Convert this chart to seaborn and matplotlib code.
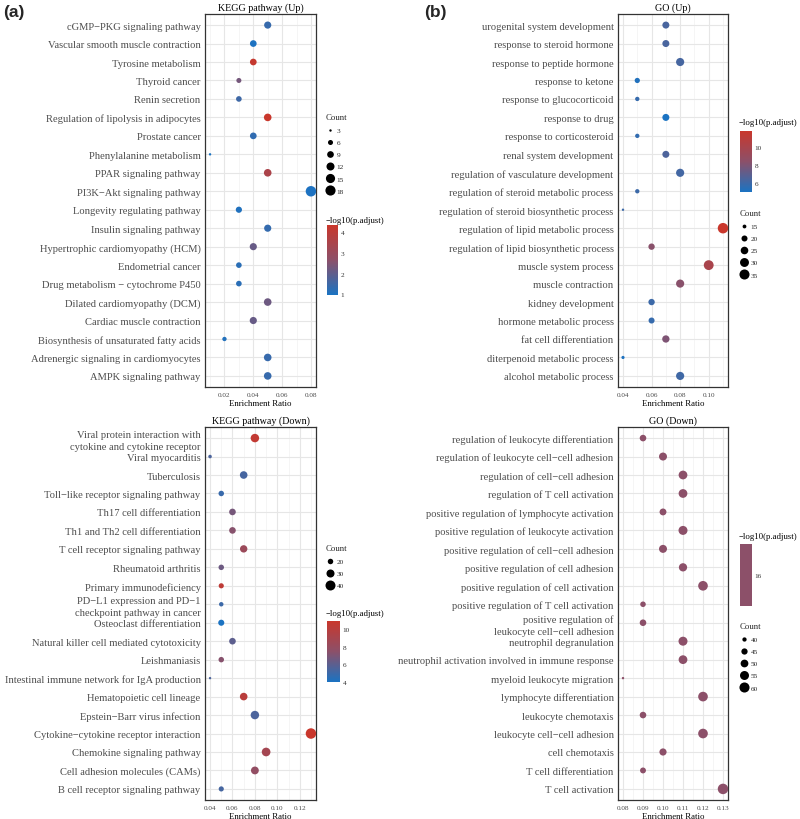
import numpy as np
import pandas as pd
import matplotlib
matplotlib.use("Agg")
import matplotlib.pyplot as plt
import seaborn as sns
from matplotlib.colors import LinearSegmentedColormap, ListedColormap, Normalize
from matplotlib.cm import ScalarMappable
from matplotlib.lines import Line2D
from matplotlib.ticker import FixedLocator, FormatStrFormatter

# ---------------- data ----------------
kegg_up_terms = ["cGMP−PKG signaling pathway", "Vascular smooth muscle contraction",
                 "Tyrosine metabolism", "Thyroid cancer", "Renin secretion",
                 "Regulation of lipolysis in adipocytes", "Prostate cancer",
                 "Phenylalanine metabolism", "PPAR signaling pathway",
                 "PI3K−Akt signaling pathway", "Longevity regulating pathway",
                 "Insulin signaling pathway", "Hypertrophic cardiomyopathy (HCM)",
                 "Endometrial cancer", "Drug metabolism − cytochrome P450",
                 "Dilated cardiomyopathy (DCM)", "Cardiac muscle contraction",
                 "Biosynthesis of unsaturated fatty acids",
                 "Adrenergic signaling in cardiomyocytes", "AMPK signaling pathway"]
kegg_up_ratio = [0.05, 0.04, 0.04, 0.03, 0.03, 0.05, 0.04, 0.01, 0.05, 0.08,
                 0.03, 0.05, 0.04, 0.03, 0.03, 0.05, 0.04, 0.02, 0.05, 0.05]
kegg_up_count = [10, 9, 9, 6, 7, 11, 9, 3, 11, 19, 8, 10, 10, 7, 7, 11, 10, 5, 11, 11]
kegg_up_logp = [1.4, 1.0, 4.2, 2.3, 1.5, 4.33, 1.3, 0.97, 3.5, 1.0,
                1.05, 1.35, 2.1, 1.2, 1.2, 2.2, 2.1, 1.1, 1.4, 1.4]

go_up_terms = ["urogenital system development", "response to steroid hormone",
               "response to peptide hormone", "response to ketone",
               "response to glucocorticoid", "response to drug",
               "response to corticosteroid", "renal system development",
               "regulation of vasculature development",
               "regulation of steroid metabolic process",
               "regulation of steroid biosynthetic process",
               "regulation of lipid metabolic process",
               "regulation of lipid biosynthetic process", "muscle system process",
               "muscle contraction", "kidney development", "hormone metabolic process",
               "fat cell differentiation", "diterpenoid metabolic process",
               "alcohol metabolic process"]
go_up_ratio = [0.07, 0.07, 0.08, 0.05, 0.05, 0.07, 0.05, 0.07, 0.08, 0.05,
               0.04, 0.11, 0.06, 0.10, 0.08, 0.06, 0.06, 0.07, 0.04, 0.08]
go_up_count = [23, 23, 27, 18, 16, 23, 16, 23, 27, 16, 13, 37, 21, 34, 27, 21, 20, 24, 14, 27]
go_up_logp = [6.4, 6.4, 6.3, 5.2, 5.8, 5.0, 5.7, 6.5, 6.2, 6.0,
              6.0, 11.8, 8.3, 10.0, 8.3, 6.0, 5.8, 8.0, 5.1, 6.1]

kegg_dn_terms = ["Viral protein interaction with\ncytokine and cytokine receptor",
                 "Viral myocarditis", "Tuberculosis", "Toll−like receptor signaling pathway",
                 "Th17 cell differentiation", "Th1 and Th2 cell differentiation",
                 "T cell receptor signaling pathway", "Rheumatoid arthritis",
                 "Primary immunodeficiency",
                 "PD−L1 expression and PD−1\ncheckpoint pathway in cancer",
                 "Osteoclast differentiation", "Natural killer cell mediated cytotoxicity",
                 "Leishmaniasis", "Intestinal immune network for IgA production",
                 "Hematopoietic cell lineage", "Epstein−Barr virus infection",
                 "Cytokine−cytokine receptor interaction", "Chemokine signaling pathway",
                 "Cell adhesion molecules (CAMs)", "B cell receptor signaling pathway"]
kegg_dn_ratio = [0.08, 0.04, 0.07, 0.05, 0.06, 0.06, 0.07, 0.05, 0.05, 0.05,
                 0.05, 0.06, 0.05, 0.04, 0.07, 0.08, 0.13, 0.09, 0.08, 0.05]
kegg_dn_count = [32, 15, 28, 20, 24, 24, 27, 20, 19, 17, 22, 24, 20, 13, 28, 32, 43, 33, 29, 19]
kegg_dn_logp = [10.5, 5.5, 5.3, 4.9, 6.8, 7.3, 8.3, 6.5, 10.3, 5.0,
                4.0, 6.0, 7.3, 5.5, 10.0, 5.5, 10.9, 8.8, 7.8, 5.3]

go_dn_terms = ["regulation of leukocyte differentiation",
               "regulation of leukocyte cell−cell adhesion",
               "regulation of cell−cell adhesion", "regulation of T cell activation",
               "positive regulation of lymphocyte activation",
               "positive regulation of leukocyte activation",
               "positive regulation of cell−cell adhesion",
               "positive regulation of cell adhesion",
               "positive regulation of cell activation",
               "positive regulation of T cell activation",
               "positive regulation of\nleukocyte cell−cell adhesion",
               "neutrophil degranulation",
               "neutrophil activation involved in immune response",
               "myeloid leukocyte migration", "lymphocyte differentiation",
               "leukocyte chemotaxis", "leukocyte cell−cell adhesion", "cell chemotaxis",
               "T cell differentiation", "T cell activation"]
go_dn_ratio = [0.09, 0.10, 0.11, 0.11, 0.10, 0.11, 0.10, 0.11, 0.12, 0.09,
               0.09, 0.11, 0.11, 0.08, 0.12, 0.09, 0.12, 0.10, 0.09, 0.13]
go_dn_count = [46, 51, 54, 54, 47, 55, 51, 52, 58, 43, 46, 55, 54, 37, 58, 46, 58, 48, 44, 62]
go_dn_logp = [16] * 20

# ---------------- style ----------------
sns.set_style("white")
plt.rcParams['font.family'] = ['Liberation Serif', 'DejaVu Serif']

W, H = 800, 820
fig = plt.figure(figsize=(W / 100, H / 100), dpi=100)
cmap = LinearSegmentedColormap.from_list("bluered", ["#1B73C2", "#8C5069", "#C9372C"])
SIZES = (3.0, 57.0)
YLAB = 7.6
SMALL = 5.2


def px_axes(l, t, r, b):
    return fig.add_axes([l / W, 1 - b / H, (r - l) / W, (b - t) / H])


def panel(rect, terms, ratio, count, logp, title, xlim, xmajor, xminor, hue_norm, pal):
    ax = px_axes(*rect)
    df = pd.DataFrame({"term": terms, "ratio": ratio, "count": count, "logp": logp})
    size_norm = (min(count), max(count))
    sns.scatterplot(data=df, x="ratio", y="term", hue="logp", size="count",
                    palette=pal, hue_norm=hue_norm, size_norm=size_norm, sizes=SIZES,
                    linewidth=0, legend=False, ax=ax, zorder=3)
    ax.set_xlim(*xlim)
    ax.set_ylim(len(terms) - 0.4, -0.6)
    ax.xaxis.set_major_locator(FixedLocator(xmajor))
    ax.xaxis.set_minor_locator(FixedLocator(xminor))
    ax.xaxis.set_major_formatter(FormatStrFormatter("%.2f"))
    ax.grid(True, which="major", color="#E6E6E6", lw=0.8, zorder=0)
    ax.grid(True, which="minor", axis="x", color="#F2F2F2", lw=0.5, zorder=0)
    ax.set_axisbelow(True)
    for s in ax.spines.values():
        s.set_color("#333333")
        s.set_linewidth(0.9)
    ax.tick_params(axis="y", which="major", length=2.2, width=0.6, color="#333333",
                   labelsize=YLAB, labelcolor="#4D4D4D", pad=1)
    ax.tick_params(axis="x", which="major", length=2.2, width=0.6, color="#333333",
                   labelsize=SMALL, labelcolor="#4D4D4D", pad=1.5)
    ax.tick_params(axis="x", which="minor", length=0)
    for lab in ax.get_yticklabels():
        lab.set_linespacing(1.35)
    ax.set_ylabel("")
    ax.set_xlabel("Enrichment Ratio", fontsize=6.3, color="black", labelpad=1)
    ax.set_title(title, fontsize=7.2, color="black", pad=3)
    return ax, size_norm


def size_legend(x, y, breaks, size_norm):
    handles = []
    for b in breaks:
        s = SIZES[0] + (SIZES[1] - SIZES[0]) * (b - size_norm[0]) / (size_norm[1] - size_norm[0])
        handles.append(Line2D([], [], marker="o", ls="", color="black",
                              markeredgewidth=0, markersize=np.sqrt(max(s, 0.5))))
    fig.legend(handles, [str(b) for b in breaks], title="Count", loc="upper left",
               bbox_to_anchor=(x / W, 1 - y / H), frameon=False, fontsize=SMALL,
               title_fontsize=6.3, labelspacing=0.84, handlelength=1.0,
               handletextpad=0.5, borderpad=0, borderaxespad=0, alignment="left")


def color_bar(x, ytitle, ytop, ybot, width, norm, cm, ticks):
    fig.text(x / W, 1 - ytitle / H, "−log10(p.adjust)", fontsize=6.3,
             ha="left", va="center", color="black")
    cax = fig.add_axes([(x + 1) / W, 1 - ybot / H, width / W, (ybot - ytop) / H])
    cb = fig.colorbar(ScalarMappable(norm=norm, cmap=cm), cax=cax)
    cb.outline.set_visible(False)
    cb.set_ticks(ticks)
    cb.set_ticklabels([str(t) for t in ticks])
    cax.tick_params(direction="in", color="white", length=2.5, width=0.7,
                    left=True, right=True, labelsize=SMALL, labelcolor="#333333", pad=2)


# ---- (a) KEGG up ----
ax1, sn1 = panel((205, 15, 316, 388), kegg_up_terms, kegg_up_ratio, kegg_up_count,
                 kegg_up_logp, "KEGG pathway (Up)", (0.0065, 0.0835),
                 [0.02, 0.04, 0.06, 0.08], [0.01, 0.03, 0.05, 0.07],
                 (min(kegg_up_logp), max(kegg_up_logp)), cmap)
size_legend(326, 114, [3, 6, 9, 12, 15, 18], sn1)
color_bar(326, 221, 226, 296, 11, Normalize(min(kegg_up_logp), max(kegg_up_logp)), cmap,
          [1, 2, 3, 4])

# ---- (b) GO up ----
ax2, sn2 = panel((618, 15, 728, 388), go_up_terms, go_up_ratio, go_up_count,
                 go_up_logp, "GO (Up)", (0.0365, 0.1135),
                 [0.04, 0.06, 0.08, 0.10], [0.05, 0.07, 0.09, 0.11],
                 (min(go_up_logp), max(go_up_logp)), cmap)
color_bar(739, 123, 132, 193, 12, Normalize(min(go_up_logp), max(go_up_logp)), cmap,
          [6, 8, 10])
size_legend(740, 210, [15, 20, 25, 30, 35], sn2)

# ---- (a) KEGG down ----
ax3, sn3 = panel((205, 428, 316, 801), kegg_dn_terms, kegg_dn_ratio, kegg_dn_count,
                 kegg_dn_logp, "KEGG pathway (Down)", (0.0355, 0.1345),
                 [0.04, 0.06, 0.08, 0.10, 0.12], [0.05, 0.07, 0.09, 0.11, 0.13],
                 (min(kegg_dn_logp), max(kegg_dn_logp)), cmap)
size_legend(326, 545, [20, 30, 40], sn3)
color_bar(326, 614, 622, 683, 13, Normalize(min(kegg_dn_logp), max(kegg_dn_logp)), cmap,
          [4, 6, 8, 10])

# ---- (b) GO down ----
go_dn_norm = (min(go_dn_logp) - 1, max(go_dn_logp) + 1)
ax4, sn4 = panel((618, 428, 728, 801), go_dn_terms, go_dn_ratio, go_dn_count,
                 go_dn_logp, "GO (Down)", (0.0775, 0.1325),
                 [0.08, 0.09, 0.10, 0.11, 0.12, 0.13],
                 [0.085, 0.095, 0.105, 0.115, 0.125],
                 go_dn_norm, cmap)
single = ListedColormap([cmap(0.5)])
color_bar(739, 537, 545, 607, 12, Normalize(*go_dn_norm), single, [16])
size_legend(740, 623, [40, 45, 50, 55, 60], sn4)

# panel letters
fig.text(3 / W, 1 - 13 / H, "(a)", fontsize=12.5, fontweight="bold",
         family=["Liberation Sans", "DejaVu Sans"], ha="left", va="center")
fig.text(424 / W, 1 - 13 / H, "(b)", fontsize=12.5, fontweight="bold",
         family=["Liberation Sans", "DejaVu Sans"], ha="left", va="center")

fig.savefig("out.png", dpi=100)
